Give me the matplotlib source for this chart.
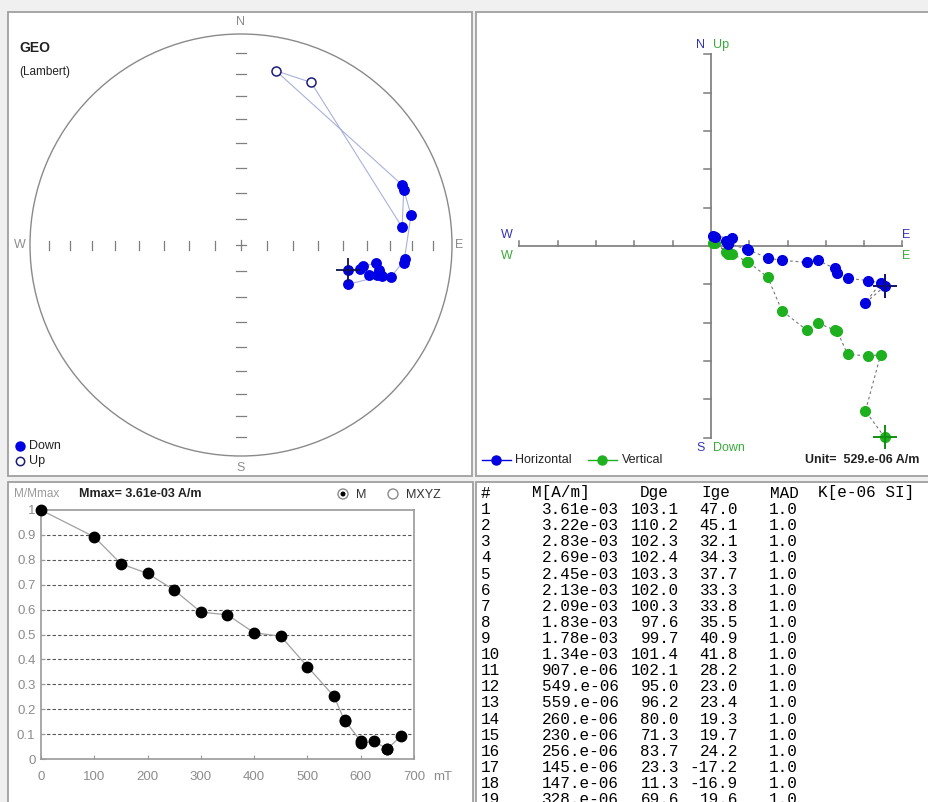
import numpy as np
import matplotlib
matplotlib.use("Agg")
import matplotlib.pyplot as plt
from matplotlib.patches import Rectangle, Circle

W, H, DPI = 929, 802, 100
plt.rcParams["font.family"] = ["Liberation Sans", "DejaVu Sans"]

# AF demagnetization of one specimen, geographic coordinates
step_no = list(range(1, 20))
m_am = [3.61e-03, 3.22e-03, 2.83e-03, 2.69e-03, 2.45e-03, 2.13e-03, 2.09e-03,
        1.83e-03, 1.78e-03, 1.34e-03, 907e-06, 549e-06, 559e-06, 260e-06,
        230e-06, 256e-06, 145e-06, 147e-06, 328e-06]
dec_ge = [103.1, 110.2, 102.3, 102.4, 103.3, 102.0, 100.3, 97.6, 99.7, 101.4,
          102.1, 95.0, 96.2, 80.0, 71.3, 83.7, 23.3, 11.3, 69.6]
inc_ge = [47.0, 45.1, 32.1, 34.3, 37.7, 33.3, 33.8, 35.5, 40.9, 41.8,
          28.2, 23.0, 23.4, 19.3, 19.7, 24.2, -17.2, -16.9, 19.6]
mad = [1.0] * 19
field_mt = [0, 100, 150, 200, 250, 300, 350, 400, 450, 500, 550, 570, 570,
            600, 600, 625, 650, 650, 675]
zij_unit = 529e-06
inc_ticks = [10, 20, 30, 40, 50, 60, 70, 80]
field_ticks = [0, 100, 200, 300, 400, 500, 600, 700]
ratio_ticks = [0, 0.1, 0.2, 0.3, 0.4, 0.5, 0.6, 0.7, 0.8, 0.9, 1.0]

M = np.array(m_am)
D = np.radians(dec_ge)
I = np.radians(inc_ge)


def fmt_m(v):
    if v >= 1e-3:
        return f"{v:.2e}"
    return f"{v * 1e6:.0f}.e-06"


fig = plt.figure(figsize=(W / DPI, H / DPI), dpi=DPI, facecolor="#f0f0f0")


def box(x0, y0, x1, y1):
    return [x0 / W, 1 - y1 / H, (x1 - x0) / W, (y1 - y0) / H]


def panel(x0, y0, x1, y1):
    fig.add_artist(Rectangle((x0 / W, 1 - y1 / H), (x1 - x0) / W, (y1 - y0) / H,
                             transform=fig.transFigure, facecolor="white",
                             edgecolor="#a0a0a0", lw=1.3, zorder=-5))


panel(8, 12, 472, 476)
panel(476, 12, 945, 476)
panel(8, 482, 473, 815)
panel(476, 482, 945, 815)

# ---------------- equal-area stereonet ----------------
cx, cy, R = 241, 245, 211
ax_s = fig.add_axes(box(8, 12, 472, 476))
ax_s.set_xlim((8 - cx) / R, (472 - cx) / R)
ax_s.set_ylim((cy - 476) / R, (cy - 12) / R)
ax_s.axis("off")
ax_s.patch.set_alpha(0)
ax_s.add_patch(Circle((0, 0), 1, fill=False, ec="#8a8a8a", lw=1.0))
r_t = np.sqrt(2) * np.sin(np.radians(45 - np.array(inc_ticks) / 2))
tk = "#7f7f7f"
for r in r_t:
    for s in (-1, 1):
        ax_s.plot([s * r, s * r], [-4.5 / R, 4.5 / R], color=tk, lw=0.9)
        ax_s.plot([-5 / R, 5 / R], [s * r, s * r], color=tk, lw=0.9)
ax_s.plot([-5 / R, 5 / R], [0, 0], color=tk, lw=0.9)
ax_s.plot([0, 0], [-5 / R, 5 / R], color=tk, lw=0.9)

r_pt = np.sqrt(2) * np.sin(np.pi / 4 - np.abs(I) / 2)
sx, sy = r_pt * np.sin(D), r_pt * np.cos(D)
down = I >= 0
ax_s.plot(sx, sy, color="#a9b1da", lw=0.8, zorder=2)
ax_s.plot(sx[down], sy[down], "o", ms=6.8, mfc="#0000e6", mec="#0000e6", zorder=3)
ax_s.plot(sx[~down], sy[~down], "o", ms=6.5, mfc="white", mec="#1c1c78", mew=1.1, zorder=3)
ax_s.plot(sx[0], sy[0], "+", ms=17, mew=1.3, color="#101050", zorder=4)

# ---------------- orthogonal vector plot ----------------
ox, oy, S = 711, 246, 38.3
ax_z = fig.add_axes(box(477, 12, 929, 476))
ax_z.set_xlim((477 - ox) / S, (929 - ox) / S)
ax_z.set_ylim((oy - 476) / S, (oy - 12) / S)
ax_z.axis("off")
ax_z.patch.set_alpha(0)
ac = "#7a7a7a"
ax_z.plot([-5, 5], [0, 0], color=ac, lw=1.2)
ax_z.plot([0, 0], [-5, 5], color=ac, lw=1.2)
for k in range(-5, 6):
    if k:
        ax_z.plot([k, k], [0, 5.5 / S], color=ac, lw=1.1)
        ax_z.plot([-6.5 / S, 0], [k, k], color=ac, lw=1.1)

hor = M * np.cos(I) / zij_unit
east = hor * np.sin(D)
north = hor * np.cos(D)
up = -M * np.sin(I) / zij_unit
blue, green = "#0000e0", "#1fb01f"
ax_z.plot(east, up, color="#777777", lw=0.8, ls=(0, (2.5, 2.5)), zorder=2)
ax_z.plot(east, north, color="#777777", lw=0.8, ls=(0, (2.5, 2.5)), zorder=2)
ax_z.plot(east, up, "o", ms=7, color=green, zorder=3)
ax_z.plot(east, north, "o", ms=7, color=blue, zorder=4)
ax_z.plot(east[0], up[0], "+", ms=17, mew=1.4, color="#109010", zorder=5)
ax_z.plot(east[0], north[0], "+", ms=17, mew=1.4, color="#101070", zorder=5)

# ---------------- intensity decay ----------------
ax_i = fig.add_axes(box(41, 510, 414, 759))
ax_i.set_xlim(0, 700)
ax_i.set_ylim(0, 1)
for sp in ax_i.spines.values():
    sp.set_color("#9a9a9a")
    sp.set_linewidth(1.2)
ax_i.set_xticks(field_ticks)
ax_i.set_xticklabels([str(v) for v in field_ticks])
ax_i.set_yticks(ratio_ticks)
ax_i.set_yticklabels(["0"] + [f"{v:.1f}" for v in ratio_ticks[1:-1]] + ["1"])
ax_i.tick_params(axis="both", direction="in", length=3, color="#9a9a9a",
                 labelcolor="#8c8c8c", labelsize=9.5)
ax_i.tick_params(axis="x", pad=9)
ax_i.tick_params(axis="y", pad=4)
for v in ratio_ticks[1:-1]:
    ax_i.axhline(v, color="#555555", lw=0.8, ls=(0, (3, 2)), zorder=1)
norm = M / M.max()
ax_i.plot(field_mt, norm, color="#a0a0a0", lw=0.9, zorder=2)
ax_i.plot(field_mt, norm, "o", ms=7.5, color="black", zorder=3, clip_on=False)

# ---------------- overlay for labels and table ----------------
ov = fig.add_axes([0, 0, 1, 1], zorder=10)
ov.set_xlim(0, W)
ov.set_ylim(H, 0)
ov.axis("off")
ov.patch.set_alpha(0)

lg = "#8c8c8c"
ov.text(241, 22, "N", color=lg, fontsize=9, ha="center", va="center")
ov.text(241, 468, "S", color=lg, fontsize=9, ha="center", va="center")
ov.text(20, 245, "W", color=lg, fontsize=9, ha="center", va="center")
ov.text(459, 245, "E", color=lg, fontsize=9, ha="center", va="center")
ov.text(19, 48, "GEO", fontsize=10, fontweight="bold", va="center", color="#222222")
ov.text(19, 72, "(Lambert)", fontsize=8.5, va="center", color="#222222")
ov.plot(20, 446, "o", ms=6.5, color="#0000e6")
ov.text(29, 446, "Down", fontsize=9, va="center", color="#222222")
ov.plot(20, 461, "o", ms=6, mfc="white", mec="#1c1c78", mew=1.1)
ov.text(29, 461, "Up", fontsize=9, va="center", color="#222222")

zb, zg = "#3535b0", "#3aaa3a"
ov.text(705, 45, "N", color=zb, fontsize=9, ha="right", va="center")
ov.text(713, 45, "Up", color=zg, fontsize=9, ha="left", va="center")
ov.text(705, 448, "S", color=zb, fontsize=9, ha="right", va="center")
ov.text(713, 448, "Down", color=zg, fontsize=9, ha="left", va="center")
ov.text(507, 235, "W", color=zb, fontsize=9, ha="center", va="center")
ov.text(507, 256, "W", color=zg, fontsize=9, ha="center", va="center")
ov.text(906, 235, "E", color=zb, fontsize=9, ha="center", va="center")
ov.text(906, 256, "E", color=zg, fontsize=9, ha="center", va="center")
ov.plot([482, 511], [460, 460], color=blue, lw=1)
ov.plot(496, 460, "o", ms=6.5, color=blue)
ov.text(515, 460, "Horizontal", fontsize=9, va="center", color="#222222")
ov.plot([588, 617], [460, 460], color=green, lw=1)
ov.plot(602, 460, "o", ms=6.5, color=green)
ov.text(622, 460, "Vertical", fontsize=9, va="center", color="#222222")
ov.text(805, 460, f"Unit=  {fmt_m(zij_unit)} A/m", fontsize=9, fontweight="bold",
        va="center", color="#222222")

ov.text(14, 494, "M/Mmax", fontsize=8.5, color="#9a9a9a", va="center")
ov.text(79, 494, f"Mmax= {fmt_m(M.max())} A/m", fontsize=9, fontweight="bold",
        va="center", color="#222222")
ov.add_patch(Circle((343, 494), 5, fc="white", ec="#8a8a8a", lw=1))
ov.add_patch(Circle((343, 494), 1.8, fc="black", ec="black"))
ov.text(356, 495, "M", fontsize=9, va="center", color="#333333")
ov.add_patch(Circle((393, 494), 5, fc="white", ec="#8a8a8a", lw=1))
ov.text(406, 495, "MXYZ", fontsize=9, va="center", color="#333333")
ov.text(433, 777, "mT", fontsize=9.5, va="center", color="#8c8c8c")

# data table
mono = dict(family=["Liberation Mono", "DejaVu Sans Mono"], fontsize=11.5,
            va="center", color="black")
ov.text(481, 493, "#", ha="left", **mono)
ov.text(532, 493, "M[A/m]", ha="left", **mono)
ov.text(669, 493, "Dge", ha="right", **mono)
ov.text(730, 493, "Ige", ha="right", **mono)
ov.text(799, 493, "MAD", ha="right", **mono)
ov.text(818, 493, "K[e-06 SI]", ha="left", **mono)
for k in range(len(step_no)):
    yy = 509.7 + k * 16.1
    ov.text(481, yy, str(step_no[k]), ha="left", **mono)
    ov.text(619, yy, fmt_m(m_am[k]), ha="right", **mono)
    ov.text(679, yy, f"{dec_ge[k]:.1f}", ha="right", **mono)
    ov.text(738, yy, f"{inc_ge[k]:.1f}", ha="right", **mono)
    ov.text(798, yy, f"{mad[k]:.1f}", ha="right", **mono)

fig.savefig("out.png", dpi=DPI, facecolor=fig.get_facecolor())
